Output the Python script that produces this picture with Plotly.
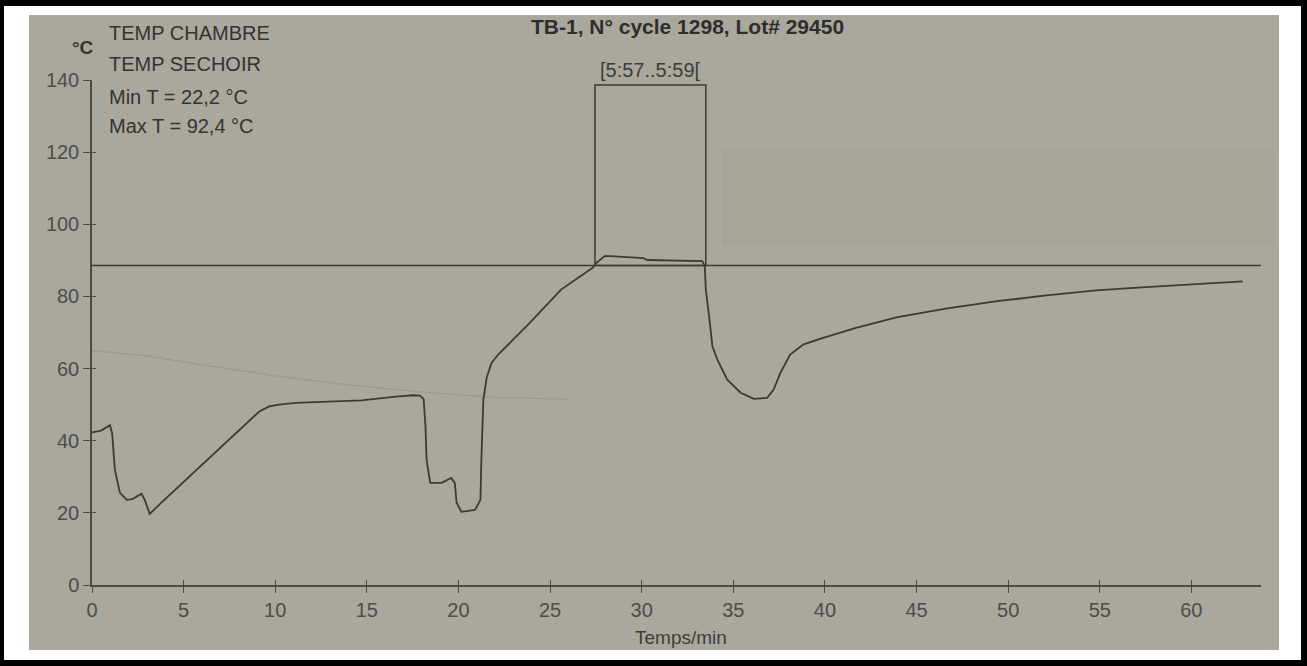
import plotly.graph_objects as go

# ---------------- data ----------------
time_min = [0.0, 0.5, 0.98, 1.1, 1.25, 1.52, 1.89, 2.2, 2.43, 2.7, 2.88, 3.15, 3.7, 5.0, 6.5, 8.0,
            9.13, 9.67, 10.2, 11.1, 13.0, 14.7, 16.6, 17.5, 17.9, 18.1, 18.2, 18.26, 18.46, 19.08,
            19.6, 19.8, 19.9, 20.16, 20.9, 21.2, 21.25, 21.36, 21.54, 21.81, 22.17, 23.8, 25.6,
            27.34, 27.5, 27.97, 28.3, 30.1, 30.3, 32.7, 33.3, 33.44, 33.5, 33.68, 33.86, 34.13,
            34.67, 35.4, 36.12, 36.85, 37.2, 37.57, 38.1, 38.84, 39.9, 41.7, 43.9, 46.6, 49.3,
            52.1, 54.8, 57.5, 60.2, 62.8]
temp_chambre = [42.3, 42.8, 44.3, 42.0, 31.9, 25.6, 23.6, 23.8, 24.5, 25.3, 23.6, 19.7, 22.4, 28.5,
                35.6, 42.7, 48.1, 49.5, 50.0, 50.5, 50.9, 51.2, 52.2, 52.6, 52.5, 51.5, 44.0, 34.7,
                28.3, 28.3, 29.7, 28.3, 22.8, 20.3, 20.8, 23.6, 34.7, 51.4, 57.5, 61.6, 63.9, 72.2,
                81.9, 88.0, 89.2, 91.2, 91.2, 90.6, 90.1, 89.8, 89.8, 88.6, 81.9, 74.5, 66.2, 62.5,
                56.9, 53.3, 51.6, 51.9, 54.2, 58.8, 63.9, 66.7, 68.5, 71.3, 74.2, 76.6, 78.6, 80.3,
                81.7, 82.6, 83.4, 84.2]

# faint second trace
time_sechoir = [0, 3, 6, 10, 14, 18, 22, 26]
temp_sechoir = [65.0, 63.5, 61.0, 58.0, 55.5, 53.5, 52.0, 51.5]

setpoint = 88.6
window_x = [27.45, 33.5]
window_top = 138.6
window_label = "[5:57..5:59["

x_ticks = [0, 5, 10, 15, 20, 25, 30, 35, 40, 45, 50, 55, 60]
y_ticks = [0, 20, 40, 60, 80, 100, 120, 140]

title = "TB-1, N° cycle 1298, Lot# 29450"
legend_lines = ["TEMP CHAMBRE", "TEMP SECHOIR", "Min T = 22,2 °C", "Max T = 92,4 °C"]
x_title = "Temps/min"
y_unit = "°C"

# ---------------- styling ----------------
W, H = 1307, 666
L, R, T, B = 92, 46, 80, 81
PW, PH = W - L - R, H - T - B
FONT = "Liberation Sans, Arial, sans-serif"
INK = "#3a3a38"
AX = "#4a4a48"
BG = "#a9a79e"


def px(xp):
    return (xp - L) / PW


def py(yp):
    return (H - B - yp) / PH


fig = go.Figure()

fig.add_trace(go.Scatter(x=time_sechoir, y=temp_sechoir, mode="lines",
                         line=dict(color="rgba(120,118,110,0.3)", width=1.2),
                         hoverinfo="skip", showlegend=False))
fig.add_trace(go.Scatter(x=time_min, y=temp_chambre, mode="lines",
                         line=dict(color=INK, width=1.8),
                         hoverinfo="skip", showlegend=False))
# helper trace so the overlay axes (crossing ticks) are drawn
fig.add_trace(go.Scatter(x=[None], y=[None], xaxis="x2", yaxis="y2",
                         mode="lines", hoverinfo="skip", showlegend=False))

shapes = [
    dict(type="rect", xref="paper", yref="paper", x0=px(4), x1=px(1301), y0=py(660), y1=py(6),
         fillcolor="white", line=dict(width=0), layer="below"),
    dict(type="rect", xref="paper", yref="paper", x0=px(29), x1=px(1279), y0=py(650), y1=py(15),
         fillcolor=BG, line=dict(width=0), layer="below"),
    dict(type="rect", xref="paper", yref="paper", x0=px(722), x1=px(1275), y0=py(246), y1=py(150),
         fillcolor="#a6a398", line=dict(width=0), layer="below"),
    dict(type="line", xref="x", yref="y", x0=0, x1=63.8, y0=setpoint, y1=setpoint,
         line=dict(color=INK, width=1.5)),
    dict(type="rect", xref="x", yref="y", x0=window_x[0], x1=window_x[1], y0=setpoint, y1=window_top,
         line=dict(color=INK, width=1.5)),
]

tickfont = dict(family=FONT, size=20, color="#4d4d4b")
annotations = [
    dict(text="<b>" + title + "</b>", xref="paper", yref="paper", x=px(687), y=py(27),
         xanchor="center", yanchor="middle",
         showarrow=False, font=dict(family=FONT, size=21, color="#2e2e2c")),
    dict(text="<b>" + y_unit + "</b>", xref="paper", yref="paper", x=px(83), y=py(48),
         xanchor="center", yanchor="middle",
         showarrow=False, font=dict(family=FONT, size=19, color="#333331")),
    dict(text=x_title, xref="paper", yref="paper", x=px(681), y=py(637),
         xanchor="center", yanchor="middle",
         showarrow=False, font=dict(family=FONT, size=19, color="#3d3d3b")),
    dict(text=window_label, xref="x", yref="y", x=(window_x[0] + window_x[1]) / 2, y=window_top,
         xanchor="center", yanchor="bottom", yshift=2, showarrow=False,
         font=dict(family=FONT, size=20, color="#3d3d3b")),
    dict(text="", xref="x", yref="y", x=0, y=140.5, ax=0, ay=12, showarrow=True,
         arrowhead=1, arrowsize=1, arrowwidth=1.3, arrowcolor=AX),
]
for txt, yp in zip(legend_lines, [33, 64, 97, 126]):
    annotations.append(dict(text=txt, xref="paper", yref="paper", x=px(107), y=py(yp),
                            xanchor="left", yanchor="middle", showarrow=False,
                            font=dict(family=FONT, size=20, color="#333331")))

fig.update_layout(
    width=W, height=H,
    margin=dict(l=L, r=R, t=T, b=B, pad=0),
    paper_bgcolor="black",
    plot_bgcolor="rgba(0,0,0,0)",
    showlegend=False,
    shapes=shapes,
    annotations=annotations,
    xaxis=dict(range=[0, 63.8], showgrid=False, zeroline=False, showline=True,
               linecolor=AX, linewidth=1.5, ticks="outside", ticklen=6, tickwidth=1.4,
               tickcolor=AX, tickvals=x_ticks, ticktext=[str(v) for v in x_ticks],
               tickfont=tickfont, anchor="y"),
    yaxis=dict(range=[0, 140], showgrid=False, zeroline=False, showline=True,
               linecolor=AX, linewidth=1.5, ticks="outside", ticklen=7, tickwidth=1.4,
               tickcolor=AX, tickvals=y_ticks, ticktext=[str(v) for v in y_ticks],
               tickfont=tickfont, anchor="x"),
    xaxis2=dict(overlaying="x", matches="x", anchor="y", showgrid=False, zeroline=False,
                showline=False, ticks="inside", ticklen=5, tickwidth=1.4, tickcolor=AX,
                tickvals=x_ticks, showticklabels=False),
    yaxis2=dict(overlaying="y", matches="y", anchor="x", showgrid=False, zeroline=False,
                showline=False, ticks="inside", ticklen=4, tickwidth=1.4, tickcolor=AX,
                tickvals=y_ticks, showticklabels=False),
)

fig.write_html("out.html", config={"displayModeBar": False},
               post_script="document.body.style.margin='0';document.body.style.overflow='hidden';")
